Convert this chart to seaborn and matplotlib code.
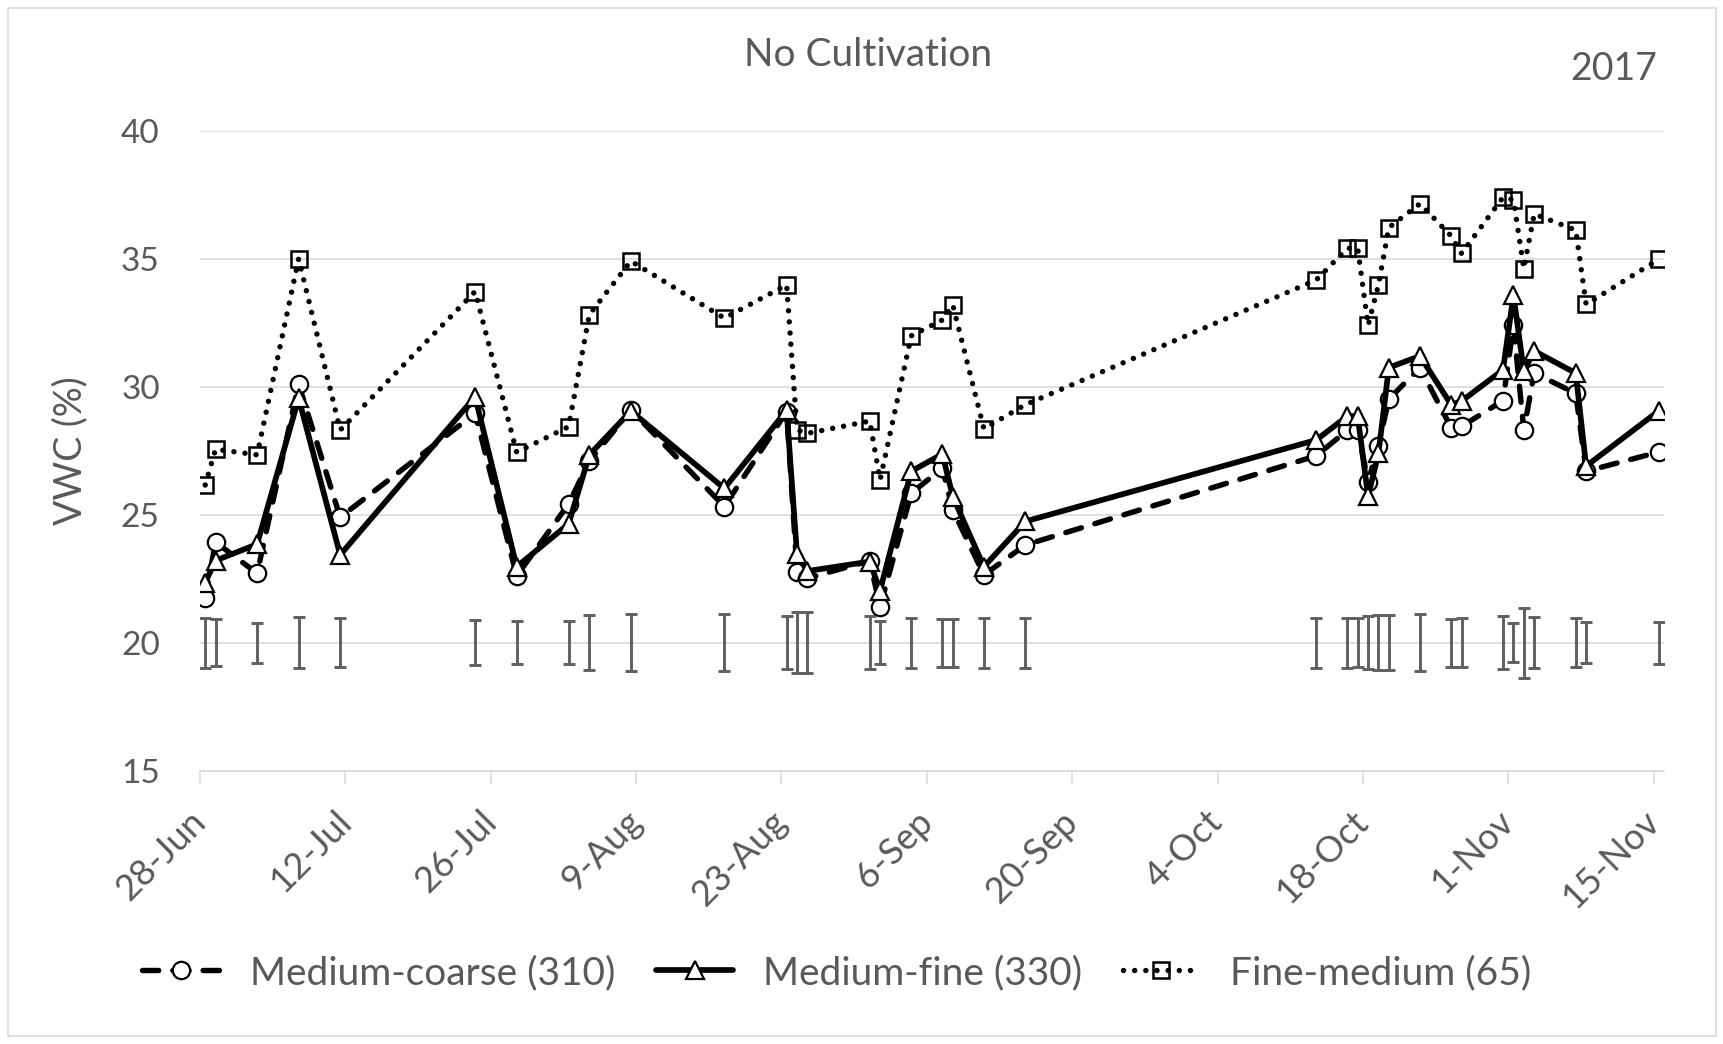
import matplotlib
matplotlib.use("Agg")
import matplotlib.pyplot as plt
from matplotlib.patches import Rectangle
import seaborn as sns
import pandas as pd

# Sampling dates (2017)
dates = [
    "2017-06-28", "2017-06-29", "2017-07-03", "2017-07-07", "2017-07-11",
    "2017-07-24", "2017-07-28", "2017-08-02", "2017-08-04", "2017-08-08",
    "2017-08-17", "2017-08-23", "2017-08-24", "2017-08-25", "2017-08-31",
    "2017-09-01", "2017-09-04", "2017-09-07", "2017-09-08", "2017-09-11",
    "2017-09-15", "2017-10-13", "2017-10-16", "2017-10-17", "2017-10-18",
    "2017-10-19", "2017-10-20", "2017-10-23", "2017-10-26", "2017-10-27",
    "2017-10-31", "2017-11-01", "2017-11-02", "2017-11-03", "2017-11-07",
    "2017-11-08", "2017-11-15",
]

# Volumetric water content (%) per soil texture
medium_coarse = [
    21.74, 23.93, 22.71, 30.10, 24.90, 28.96, 22.61, 25.42, 27.10, 29.09,
    25.32, 29.03, 22.78, 22.52, 23.20, 21.41, 25.84, 26.82, 25.19, 22.65,
    23.82, 27.30, 28.30, 28.30, 26.29, 27.70, 29.52, 30.74, 28.40, 28.45,
    29.46, 32.40, 28.31, 30.54, 29.74, 26.70, 27.45,
]
medium_fine = [
    22.35, 23.21, 23.85, 29.55, 23.43, 29.61, 22.97, 24.64, 27.34, 29.05,
    26.03, 29.08, 23.45, 22.80, 23.17, 22.04, 26.70, 27.37, 25.71, 22.97,
    24.74, 27.92, 28.85, 28.85, 25.72, 27.40, 30.75, 31.20, 29.30, 29.44,
    30.66, 33.59, 30.60, 31.40, 30.53, 26.90, 29.06,
]
fine_medium = [
    26.16, 27.56, 27.34, 35.00, 28.31, 33.72, 27.44, 28.44, 32.82, 34.91,
    32.68, 33.98, 28.31, 28.18, 28.66, 26.36, 31.99, 32.61, 33.20, 28.36,
    29.30, 34.17, 35.41, 35.41, 32.40, 33.98, 36.22, 37.15, 35.89, 35.21,
    37.40, 37.30, 34.62, 36.75, 36.12, 33.22, 34.98,
]

# LSD bars drawn around a common reference level
lsd_level = 20.0
lsd_half = [
    0.98, 0.91, 0.78, 1.00, 0.96, 0.87, 0.83, 0.83, 1.07, 1.11,
    1.11, 1.04, 1.20, 1.20, 1.04, 0.85, 0.97, 0.94, 0.94, 0.98,
    0.98, 0.97, 0.98, 0.96, 1.04, 1.08, 1.08, 1.12, 0.93, 0.96,
    1.04, 0.76, 1.37, 0.99, 0.96, 0.80, 0.82,
]

series_names = ["Medium-coarse (310)", "Medium-fine (330)", "Fine-medium (65)"]
tick_dates = ["2017-06-28", "2017-07-12", "2017-07-26", "2017-08-09",
              "2017-08-23", "2017-09-06", "2017-09-20", "2017-10-04",
              "2017-10-18", "2017-11-01", "2017-11-15"]
tick_labels = ["28-Jun", "12-Jul", "26-Jul", "9-Aug", "23-Aug", "6-Sep",
               "20-Sep", "4-Oct", "18-Oct", "1-Nov", "15-Nov"]

sns.set_style("white")
plt.rcParams["font.family"] = ["Lato", "DejaVu Sans"]

TEXT = "#595959"
GRID = "#d9d9d9"

# points sit in the middle of each day on the date axis
x = pd.to_datetime(dates) + pd.Timedelta(hours=12)
df = pd.DataFrame({
    "date": list(x) * 3,
    "vwc": medium_coarse + medium_fine + fine_medium,
    "texture": [series_names[0]] * len(x) + [series_names[1]] * len(x)
               + [series_names[2]] * len(x),
})

fig = plt.figure(figsize=(17.24, 10.44), dpi=100)
ax = fig.add_axes([200 / 1724, 1 - 770.7 / 1044, 1464 / 1724, 639.9 / 1044])

styles = {
    series_names[0]: dict(color="black", lw=3.9, dashes=(3.0, 2.6),
                          dash_capstyle="round", marker="o", ms=12.5,
                          mfc="white", mec="black", mew=1.6),
    series_names[1]: dict(color="black", lw=4.1, linestyle="-",
                          solid_joinstyle="round", marker="^", ms=13,
                          mfc="white", mec="black", mew=1.6),
    series_names[2]: dict(color="black", lw=3.9, dashes=(0.01, 2.05),
                          dash_capstyle="round", marker="s", ms=12,
                          mfc="none", mec="black", mew=1.8),
}

ax.errorbar(x, [lsd_level] * len(x), yerr=lsd_half, fmt="none",
            ecolor="#5f5f5f", elinewidth=2.1, capsize=4.3, capthick=2.1,
            zorder=2)

for i, name in enumerate(series_names):
    sub = df[df["texture"] == name]
    sns.lineplot(data=sub, x="date", y="vwc", ax=ax, label=name,
                 errorbar=None, sort=False, zorder=3 + i, **styles[name])

ax.set_ylim(15, 40)
ax.set_yticks([15, 20, 25, 30, 35, 40])
ax.set_xlim(pd.Timestamp("2017-06-28"), pd.Timestamp("2017-11-16"))
ax.set_xticks(pd.to_datetime(tick_dates))
ax.set_xticklabels(tick_labels, rotation=45, ha="right",
                   rotation_mode="anchor", va="center")

ax.grid(axis="y", color=GRID, lw=1.2)
ax.grid(axis="x", visible=False)
for side in ["left", "right", "top"]:
    ax.spines[side].set_visible(False)
ax.spines["bottom"].set_color(GRID)
ax.spines["bottom"].set_linewidth(1.2)
ax.set_axisbelow(True)

ax.tick_params(axis="y", length=0, pad=29, labelsize=24, labelcolor=TEXT)
ax.tick_params(axis="x", length=9, width=1.2, color=GRID, pad=24,
               labelsize=26, labelcolor=TEXT, bottom=True)

ax.set_xlabel("")
ax.set_ylabel("VWC (%)", fontsize=27, color=TEXT)
ax.yaxis.set_label_coords(-0.0765, 0.5)

fig.text(868 / 1724, 1 - 55 / 1044, "No Cultivation", ha="center",
         va="center", fontsize=28, color=TEXT)
fig.text(1657 / 1724, 1 - 69 / 1044, "2017", ha="right", va="center",
         fontsize=27, color=TEXT)

leg = ax.legend(loc="center", bbox_to_anchor=(837 / 1724, 1 - 973 / 1044),
                bbox_transform=fig.transFigure, ncol=3, frameon=False,
                fontsize=28, numpoints=1, handlelength=2.0,
                handletextpad=0.77, columnspacing=1.03)
for t in leg.get_texts():
    t.set_color(TEXT)

fig.add_artist(Rectangle((8 / 1724, 8 / 1044), 1 - 16 / 1724, 1 - 16 / 1044,
                         transform=fig.transFigure, fill=False,
                         edgecolor=GRID, lw=1.2))

fig.savefig("out.png", dpi=100)
